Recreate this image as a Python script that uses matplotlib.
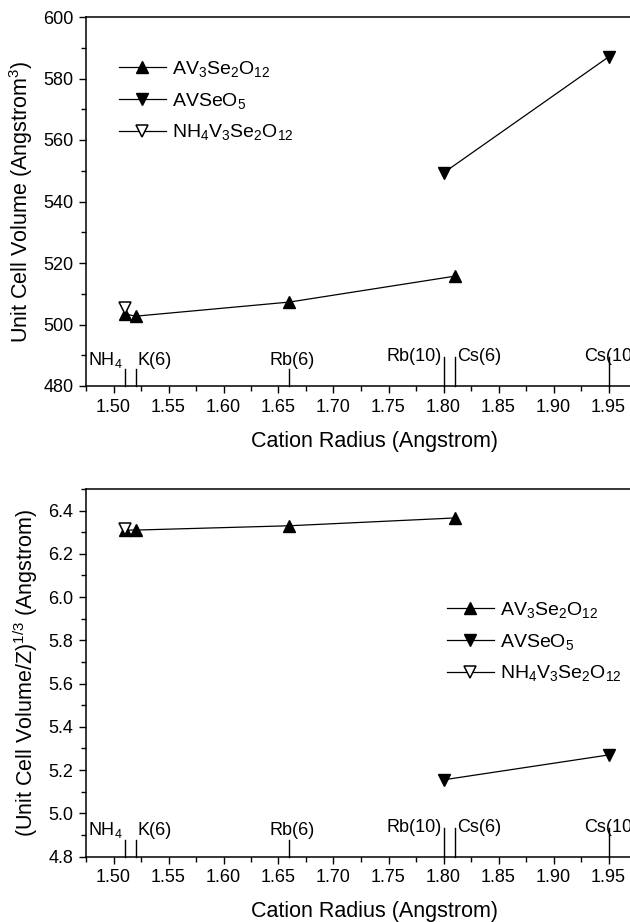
import matplotlib
matplotlib.use("Agg")
import matplotlib.pyplot as plt
from matplotlib.ticker import MultipleLocator, FormatStrFormatter
import matplotlib.transforms as mtransforms

plt.rcParams['font.family'] = ['Liberation Sans', 'DejaVu Sans']
plt.rcParams['mathtext.fontset'] = 'custom'
plt.rcParams['mathtext.rm'] = 'Liberation Sans'
plt.rcParams['mathtext.it'] = 'Liberation Sans:italic'
plt.rcParams['mathtext.bf'] = 'Liberation Sans:bold'

# data
radius_a = [1.51, 1.52, 1.66, 1.81]
volume_a = [503.5, 502.7, 507.3, 515.7]
cube_a = [6.31, 6.31, 6.33, 6.366]

radius_b = [1.80, 1.95]
volume_b = [549.3, 587.0]
cube_b = [5.155, 5.27]

radius_nh4 = [1.51]
volume_nh4 = [505.5]
cube_nh4 = [6.315]

series_names = ['AV$_3$Se$_2$O$_{12}$', 'AVSeO$_5$', 'NH$_4$V$_3$Se$_2$O$_{12}$']

# cation radius markers along the x axis
cation_radius = [1.51, 1.52, 1.66, 1.80, 1.81, 1.95]
cation_names = ['NH$_4$', 'K(6)', 'Rb(6)', 'Rb(10)', 'Cs(6)', 'Cs(10)']
cation_align = ['right', 'left', 'center', 'right', 'left', 'center']
cation_tall = [False, False, False, True, True, True]

fig = plt.figure(figsize=(6.3, 9.22), dpi=100)
W, H = 630.0, 922.0
ax1 = fig.add_axes([86 / W, 1 - 386 / H, 577.5 / W, 369 / H])
ax2 = fig.add_axes([86 / W, 1 - 856.6 / H, 577.5 / W, 367.6 / H])


def style_axis(ax):
    ax.set_xlim(1.475, 2.0)
    ax.xaxis.set_major_locator(MultipleLocator(0.05))
    ax.xaxis.set_minor_locator(MultipleLocator(0.025))
    ax.xaxis.set_major_formatter(FormatStrFormatter('%.2f'))
    ax.tick_params(which='major', direction='out', length=5, width=1, labelsize=13, pad=4)
    ax.tick_params(which='minor', direction='out', length=3.5, width=1)
    ax.spines['right'].set_visible(False)
    for s in ['left', 'bottom', 'top']:
        ax.spines[s].set_linewidth(1.1)
    ax.set_xlabel('Cation Radius (Angstrom)', fontsize=15.5, labelpad=11)


def draw_cations(ax):
    trans = mtransforms.blended_transform_factory(ax.transData, ax.transAxes)
    for r, name, ha, tall in zip(cation_radius, cation_names, cation_align, cation_tall):
        top = 0.079 if tall else 0.045
        ax.plot([r, r], [0, top], color='black', lw=1, transform=trans, clip_on=False)
        off = {'right': -0.002, 'left': 0.002, 'center': 0.002}[ha]
        base = 0.068 if tall else 0.058
        ax.text(r + off, base, name, ha=ha, va='baseline', fontsize=13,
                transform=trans)


def draw_series(ax, ya, yb, yn):
    ax.plot(radius_a, ya, color='black', lw=0.9, marker='^', ms=8,
            mfc='black', mec='black', label=series_names[0])
    ax.plot(radius_b, yb, color='black', lw=0.9, marker='v', ms=8,
            mfc='black', mec='black', label=series_names[1])
    ax.plot(radius_nh4, yn, color='black', lw=0.9, marker='v', ms=8,
            mfc='white', mec='black', mew=1.1, label=series_names[2], zorder=3)


# top panel: unit cell volume
draw_series(ax1, volume_a, volume_b, volume_nh4)
style_axis(ax1)
ax1.set_ylim(480, 600)
ax1.yaxis.set_major_locator(MultipleLocator(20))
ax1.yaxis.set_minor_locator(MultipleLocator(10))
ax1.set_ylabel('Unit Cell Volume (Angstrom$^3$)', fontsize=15.5, labelpad=6)
draw_cations(ax1)
ax1.legend(loc='upper left', bbox_to_anchor=(119 / W, 1 - 59 / H),
           bbox_transform=fig.transFigure, frameon=False, fontsize=14,
           handlelength=2.4, handletextpad=0.3, labelspacing=0.6,
           borderpad=0, borderaxespad=0, numpoints=1)

# bottom panel: cube root of volume per formula unit
draw_series(ax2, cube_a, cube_b, cube_nh4)
style_axis(ax2)
ax2.set_ylim(4.8, 6.5)
ax2.yaxis.set_major_locator(MultipleLocator(0.2))
ax2.yaxis.set_minor_locator(MultipleLocator(0.1))
ax2.yaxis.set_major_formatter(FormatStrFormatter('%.1f'))
ax2.set_ylabel('(Unit Cell Volume/Z)$^{1/3}$ (Angstrom)', fontsize=15.5, labelpad=6)
draw_cations(ax2)
ax2.legend(loc='upper left', bbox_to_anchor=(447 / W, 1 - 600 / H),
           bbox_transform=fig.transFigure, frameon=False, fontsize=14,
           handlelength=2.4, handletextpad=0.3, labelspacing=0.6,
           borderpad=0, borderaxespad=0, numpoints=1)

fig.savefig('out.png', dpi=100)
